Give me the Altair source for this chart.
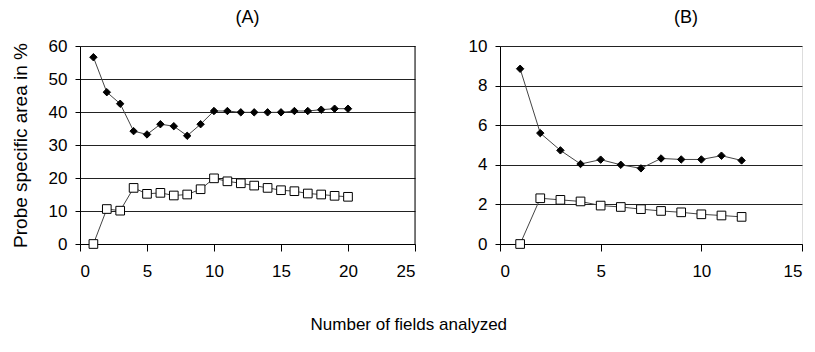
import altair as alt
import pandas as pd

# Panel A
a_x = list(range(1, 21))
a_diamond = [56.6, 46.0, 42.5, 34.2, 33.2, 36.3, 35.7, 32.8, 36.3, 40.3,
             40.3, 39.9, 39.9, 39.9, 39.9, 40.3, 40.3, 40.7, 41.0, 41.0]
a_square = [0.0, 10.6, 10.1, 17.0, 15.2, 15.5, 14.7, 15.0, 16.6, 19.9,
            19.0, 18.4, 17.7, 17.0, 16.3, 16.0, 15.3, 15.0, 14.6, 14.3]
# Panel B
b_x = list(range(1, 13))
b_diamond = [8.85, 5.6, 4.73, 4.04, 4.26, 4.0, 3.82, 4.32, 4.27, 4.27, 4.46, 4.22]
b_square = [0.0, 2.31, 2.23, 2.15, 1.94, 1.87, 1.76, 1.67, 1.6, 1.5, 1.44, 1.37]

series_names = ["diamond", "square"]

def make_df(xs, d, s):
    rows = [{"x": x, "y": v, "series": "diamond"} for x, v in zip(xs, d)]
    rows += [{"x": x, "y": v, "series": "square"} for x, v in zip(xs, s)]
    return pd.DataFrame(rows)

FONT = "Liberation Sans"

def panel(df, xmax, xticks, ymax, yticks, title, title_dx, ytitle, width, border):
    x = alt.X("x:Q", scale=alt.Scale(domain=[0, xmax], nice=False),
              axis=alt.Axis(values=xticks, title=None, grid=False, tickSize=7,
                            labelPadding=12, labelFontSize=17, labelFont=FONT,
                            labelColor="black", domainColor="black", tickColor="black"))
    y = alt.Y("y:Q", scale=alt.Scale(domain=[0, ymax], nice=False),
              axis=alt.Axis(values=yticks, title=ytitle, grid=True, gridColor="#222",
                            gridWidth=1, tickSize=5, labelPadding=8, labelFontSize=17,
                            labelFont=FONT, labelColor="black", domainColor="black",
                            tickColor="black", titleFont=FONT, titleFontSize=19,
                            titleFontWeight="normal", titleColor="black", titlePadding=18))
    base = alt.Chart(df)
    lines = base.mark_line(color="#444", strokeWidth=1).encode(x=x, y=y, detail="series:N")
    pts = base.mark_point(opacity=1, stroke="black", strokeWidth=1).encode(
        x=x, y=y,
        shape=alt.Shape("series:N", scale=alt.Scale(domain=series_names, range=["diamond", "square"]), legend=None),
        fill=alt.Fill("series:N", scale=alt.Scale(domain=series_names, range=["black", "white"]), legend=None),
        size=alt.Size("series:N", scale=alt.Scale(domain=series_names, range=[55, 75]), legend=None),
    )
    layers = [lines, pts]
    if border:
        layers.insert(0, alt.Chart(pd.DataFrame({"x": [xmax]})).mark_rule(color="black", strokeWidth=1).encode(x=alt.X("x:Q", scale=alt.Scale(domain=[0, xmax], nice=False))))
    return alt.layer(*layers).properties(
        width=width, height=198,
        title=alt.TitleParams(title, font=FONT, fontSize=18, fontWeight="normal", color="black",
                              offset=10, dx=title_dx),
    )

pa = panel(make_df(a_x, a_diamond, a_square), 25, [0, 5, 10, 15, 20, 25], 60,
           [0, 10, 20, 30, 40, 50, 60], "(A)", 0, "Probe specific area in %", 335, True)
pb = panel(make_df(b_x, b_diamond, b_square), 15, [0, 5, 10, 15], 10,
           [0, 2, 4, 6, 8, 10], "(B)", 35, None, 302, False)

chart = alt.hconcat(pa, pb, spacing=51).properties(
    title=alt.TitleParams("Number of fields analyzed", orient="bottom", anchor="middle",
                          font=FONT, fontSize=17, fontWeight="normal", color="black",
                          offset=37, dx=2),
    padding={"left": 2, "top": 0, "right": 0, "bottom": 0},
).configure_view(stroke=None).configure(background="white")

chart.save("out.html", embed_options={"renderer": "svg", "actions": False})
